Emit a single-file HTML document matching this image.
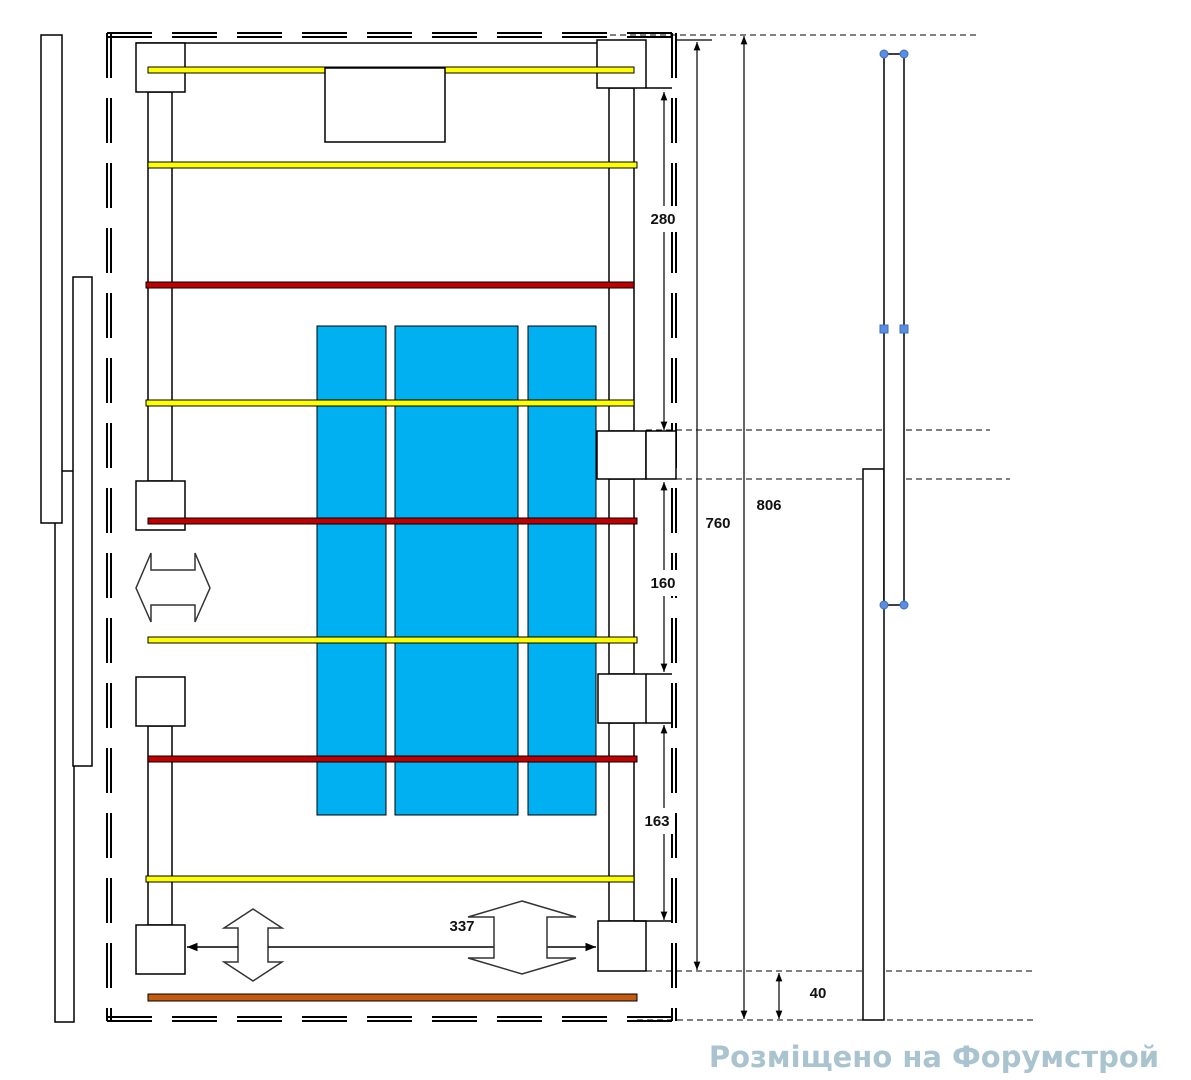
<!DOCTYPE html>
<html><head><meta charset="utf-8"><style>
html,body{margin:0;padding:0;background:#fff;width:1191px;height:1080px;overflow:hidden}
svg{display:block}
text{font-family:"Liberation Sans",sans-serif;font-weight:bold}
</style></head><body>
<svg width="1191" height="1080" viewBox="0 0 1191 1080" xmlns="http://www.w3.org/2000/svg">
<defs>
<marker id="ah" viewBox="0 0 10 10" refX="10" refY="5" markerWidth="7" markerHeight="7" orient="auto-start-reverse"><path d="M0,1 L10,5 L0,9 z" fill="#000"/></marker>
</defs>
<g fill="none" stroke="#000" stroke-width="1.5">
<rect x="41" y="35" width="21" height="488" fill="#fff"/>
<rect x="73" y="277" width="19" height="489" fill="#fff"/>
<polyline points="62,471 73,471"/>
<polyline points="55,523 55,1022 74,1022 74,766"/>
<!-- outer dashed double frame -->
<g stroke-width="2" stroke-dasharray="45,20">
<line x1="107" y1="33" x2="107" y2="1021"/>
<line x1="111" y1="33" x2="111" y2="1021"/>
<line x1="672" y1="33" x2="672" y2="1021"/>
<line x1="676" y1="33" x2="676" y2="1021"/>
<line x1="107" y1="33" x2="676" y2="33"/>
<line x1="107" y1="37" x2="676" y2="37"/>
<line x1="107" y1="1017" x2="676" y2="1017"/>
<line x1="107" y1="1021" x2="676" y2="1021"/>
</g>
<line x1="136" y1="43" x2="597" y2="43"/>
<rect x="148" y="92" width="24" height="389" fill="#fff"/>
<rect x="148" y="726" width="24" height="199" fill="#fff"/>
<rect x="609" y="88" width="25" height="343" fill="#fff"/>
<rect x="609" y="479" width="25" height="195" fill="#fff"/>
<rect x="609" y="723" width="25" height="198" fill="#fff"/>
<rect x="136" y="43" width="49" height="49" fill="#fff"/>
<rect x="597" y="40" width="49" height="48" fill="#fff"/>
<rect x="136" y="481" width="49" height="49" fill="#fff"/>
<rect x="136" y="677" width="49" height="49" fill="#fff"/>
<rect x="136" y="925" width="49" height="49" fill="#fff"/>
<rect x="597" y="431" width="49" height="48" fill="#fff"/>
<rect x="646" y="431" width="30" height="48" fill="#fff"/>
<rect x="598" y="674" width="48" height="49" fill="#fff"/>
<line x1="646" y1="674" x2="672" y2="674"/><line x1="646" y1="723" x2="672" y2="723"/>
<rect x="598" y="921" width="48" height="50" fill="#fff"/>
<line x1="646" y1="88" x2="672" y2="88"/>
<line x1="634" y1="921" x2="672" y2="921"/>
</g>
<g fill="#00b0f0" stroke="#000" stroke-width="1">
<rect x="317" y="326" width="69" height="489"/>
<rect x="395" y="326" width="123" height="489"/>
<rect x="528" y="326" width="68" height="489"/>
</g>
<g stroke="#000" stroke-width="1">
<rect x="148" y="67" width="486" height="6" fill="#ffff00"/>
<rect x="148" y="162" width="489" height="6" fill="#ffff00"/>
<rect x="146" y="282" width="488" height="6" fill="#c00000"/>
<rect x="146" y="400" width="488" height="6" fill="#ffff00"/>
<rect x="148" y="518" width="489" height="6" fill="#c00000"/>
<rect x="148" y="637" width="489" height="6" fill="#ffff00"/>
<rect x="148" y="756" width="489" height="6" fill="#c00000"/>
<rect x="146" y="876" width="488" height="6" fill="#ffff00"/>
<rect x="148" y="994" width="489" height="7" fill="#c55a11"/>
</g>
<rect x="325" y="68" width="120" height="74" fill="#fff" stroke="#000" stroke-width="1.5"/>
<g fill="#fff" stroke="#333" stroke-width="1.5">
<path d="M136,588 L151,553 V570 H195 V553 L210,588 L195,622 V605 H151 V622 Z"/>
<path d="M253,909 L282,928 H268 V962 H282 L253,981 L224,962 H238 V928 H224 Z"/>
</g>
<g stroke="#000" stroke-width="1.5" fill="none">
<line x1="187" y1="947" x2="238" y2="947" marker-start="url(#ah)"/>
<line x1="268" y1="947" x2="494" y2="947"/>
<line x1="547" y1="947" x2="596" y2="947" marker-end="url(#ah)"/>
</g>
<path d="M522,901 L576,917 H547 V958 H576 L522,974 L468,958 H494 V917 H468 Z" fill="#fff" stroke="#333" stroke-width="1.5"/>
<g stroke="#000" stroke-width="1.2" fill="none">
<line x1="664" y1="92" x2="664" y2="430" marker-start="url(#ah)" marker-end="url(#ah)"/>
<line x1="664" y1="482" x2="664" y2="672" marker-start="url(#ah)" marker-end="url(#ah)"/>
<line x1="664" y1="725" x2="664" y2="920" marker-start="url(#ah)" marker-end="url(#ah)"/>
<line x1="697" y1="42" x2="697" y2="970" marker-start="url(#ah)" marker-end="url(#ah)"/>
<line x1="744" y1="36" x2="744" y2="1019" marker-start="url(#ah)" marker-end="url(#ah)"/>
<line x1="779" y1="973" x2="779" y2="1019" marker-start="url(#ah)" marker-end="url(#ah)"/>
<line x1="676" y1="40" x2="712" y2="40"/>
</g>
<g stroke="#000" stroke-width="1" stroke-dasharray="6,4">
<line x1="610" y1="35" x2="977" y2="35"/>
<line x1="646" y1="430" x2="990" y2="430"/>
<line x1="646" y1="479" x2="1010" y2="479"/>
<line x1="646" y1="971" x2="1033" y2="971"/>
<line x1="637" y1="1020" x2="1033" y2="1020"/>
</g>
<g fill="#fff">
<rect x="647" y="206" width="33" height="26"/>
<rect x="647" y="570" width="33" height="26"/>
<rect x="641" y="808" width="33" height="26"/>
</g>
<g font-size="15" fill="#111">
<text x="663" y="224" text-anchor="middle">280</text>
<text x="663" y="588" text-anchor="middle">160</text>
<text x="657" y="826" text-anchor="middle">163</text>
<text x="718" y="528" text-anchor="middle">760</text>
<text x="769" y="510" text-anchor="middle">806</text>
<text x="818" y="998" text-anchor="middle">40</text>
<text x="462" y="931" text-anchor="middle">337</text>
</g>
<g stroke="#000" stroke-width="1.5" fill="none">
<rect x="863" y="469" width="21" height="551" fill="#fff"/>
<rect x="884" y="54" width="20" height="551" fill="#fff"/>
</g>
<g fill="#5b8ee0" stroke="#3a6fc0" stroke-width="1">
<circle cx="884" cy="54" r="4"/><circle cx="904" cy="54" r="4"/>
<rect x="880" y="325" width="8" height="8"/><rect x="900" y="325" width="8" height="8"/>
<circle cx="884" cy="605" r="4"/><circle cx="904" cy="605" r="4"/>
</g>
<text x="934" y="1067" text-anchor="middle" font-size="29" fill="#a9c4cf" style="font-family:'DejaVu Sans',sans-serif">Розміщено на Форумстрой</text>
</svg>
</body></html>
